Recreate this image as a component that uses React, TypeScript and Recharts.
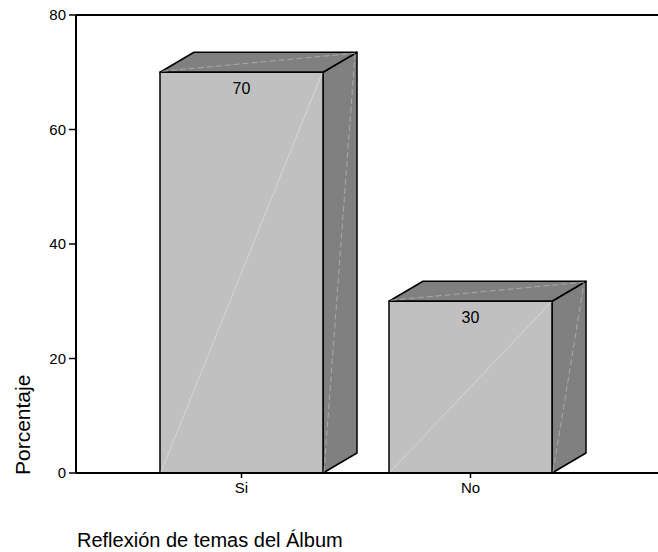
import React from 'react';
import { BarChart, Bar, XAxis, YAxis, ReferenceLine, LabelList, Label } from 'recharts';

const categories = ['Si', 'No'];
const values = [70, 30];
const yTicks = [0, 20, 40, 60, 80];

const data = categories.map((c, i) => ({ name: c, value: values[i] }));

const FONT = '"Liberation Sans", Arial, sans-serif';
const DX = 34;
const DY = 20;

const Bar3D = (props: any) => {
  const { x, y, width, height } = props;
  if (width == null || height == null) return null;
  const b = y + height;
  const r = x + width;
  return (
    <g>
      <polygon
        points={`${r},${b} ${r + DX},${b - DY} ${r + DX},${y - DY} ${r},${y}`}
        fill="#808080"
        stroke="#000"
        strokeWidth={1.5}
        strokeLinejoin="round"
      />
      <polygon
        points={`${x},${y} ${x + DX},${y - DY} ${r + DX},${y - DY} ${r},${y}`}
        fill="#808080"
        stroke="#000"
        strokeWidth={1.5}
        strokeLinejoin="round"
      />
      <rect x={x} y={y} width={width} height={height} fill="#c0c0c0" stroke="#000" strokeWidth={1.5} />
      <line x1={x + 1} y1={b - 1} x2={r - 1} y2={y + 1} stroke="#dcdcdc" strokeWidth={0.8} />
      <line x1={x + 2} y1={y - 1} x2={r + DX - 2} y2={y - DY + 1} stroke="#b4b4b4" strokeWidth={0.8} strokeDasharray="6 3" />
      <line x1={r + 1} y1={b - 1} x2={r + DX - 2} y2={y - DY + 2} stroke="#b4b4b4" strokeWidth={0.8} strokeDasharray="6 3" />
    </g>
  );
};

const ValueLabel = (props: any) => {
  const { x, y, width, value } = props;
  return (
    <text x={x + width / 2} y={y + 22} textAnchor="middle" fontFamily={FONT} fontSize={16} fill="#000">
      {value}
    </text>
  );
};

export default function App() {
  return (
    <div style={{ position: 'absolute', left: 0, top: 0, background: '#fff' }}>
      <BarChart
        width={658}
        height={552}
        data={data}
        margin={{ top: 15, right: 0, bottom: 0, left: 0 }}
      >
        <XAxis
          dataKey="name"
          padding={{ left: 51, right: 73 }}
          height={79}
          axisLine={{ stroke: '#000', strokeWidth: 2 }}
          tickLine={{ stroke: '#000', strokeWidth: 1.5 }}
          tickSize={5}
          tickMargin={4}
          tick={{ fill: '#000', fontSize: 15, fontFamily: FONT }}
        >
          <Label
            content={() => (
              <text x={77} y={547} fontFamily={FONT} fontSize={20} fill="#000">
                Reflexión de temas del Álbum
              </text>
            )}
          />
        </XAxis>
        <YAxis
          domain={[0, 80]}
          ticks={yTicks}
          width={76}
          axisLine={{ stroke: '#000', strokeWidth: 2 }}
          tickLine={{ stroke: '#000', strokeWidth: 1.5 }}
          tickSize={7}
          tickMargin={3}
          tick={{ fill: '#000', fontSize: 15, fontFamily: FONT }}
        >
          <Label
            content={() => (
              <text
                x={30}
                y={475}
                transform="rotate(-90, 30, 475)"
                textAnchor="start"
                fontFamily={FONT}
                fontSize={21}
                fill="#000"
              >
                Porcentaje
              </text>
            )}
          />
        </YAxis>
        <ReferenceLine y={80} stroke="#000" strokeWidth={2} ifOverflow="visible" />
        <Bar dataKey="value" barSize={163} shape={<Bar3D />} isAnimationActive={false}>
          <LabelList dataKey="value" content={<ValueLabel />} />
        </Bar>
      </BarChart>
    </div>
  );
}
